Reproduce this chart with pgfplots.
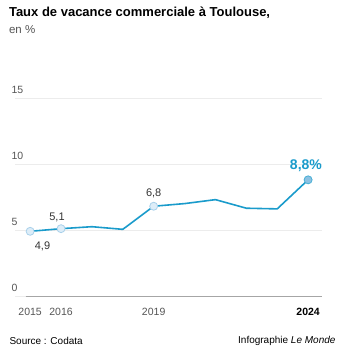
\documentclass[border=0pt]{standalone}
\usepackage{pgfplots}
\pgfplotsset{compat=1.18}
\usepackage{fontspec}
\setmainfont{Liberation Sans}
\definecolor{lineblue}{HTML}{1A9BCB}
\definecolor{mklight}{HTML}{DDEDF8}
\definecolor{mkedge}{HTML}{A8D0EA}
\definecolor{mkdark}{HTML}{8CC1E2}
\definecolor{ticklab}{HTML}{555555}
\definecolor{gridc}{HTML}{ECECEC}
\begin{document}
\begin{tikzpicture}
\useasboundingbox (0pt,0pt) rectangle (345pt,352pt);
\node[anchor=west,font=\bfseries\fontsize{13}{15}\selectfont] at (5.5pt,339pt) {Taux de vacance commerciale à Toulouse,};
\node[anchor=west,font=\fontsize{11.5}{13}\selectfont,text=ticklab] at (5.5pt,322pt) {en \%};
\node[anchor=west,font=\fontsize{10}{12}\selectfont] at (6pt,11pt) {Source : Codata};
\node[anchor=east,font=\fontsize{10}{12}\selectfont] at (339pt,11pt) {Infographie \textit{Le Monde}};
\begin{axis}[
  at={(15pt,56pt)}, anchor=south west, scale only axis,
  width=307pt, height=198pt,
  xmin=2014.51, xmax=2024.45, ymin=0, ymax=15,
  axis line style={draw=none},
  ytick={0,5,10,15},
  xtick={2015,2016,2019,2024},
  xticklabels={2015,2016,2019,\textbf{\textcolor{black}{2024}}},
  major tick length=0pt,
  ymajorgrids, grid style={gridc, line width=0.8pt},
  /pgf/number format/assume math mode=true,
  yticklabel style={anchor=south west, xshift=-7pt, yshift=1pt, font=\fontsize{10.5}{12}\selectfont, text=ticklab},
  xticklabel style={yshift=-9pt, font=\fontsize{10.5}{12}\selectfont, text=ticklab},
  clip=false,
]
\draw[gray!70, line width=0.8pt] (axis cs:2014.85,0) -- (axis cs:2024.45,0);
\addplot[lineblue, line width=1.6pt, no markers] coordinates {
 (2015,4.9) (2016,5.1) (2017,5.25) (2018,5.05) (2019,6.8) (2020,7.0) (2021,7.3) (2022,6.65) (2023,6.6) (2024,8.8)};
\addplot[only marks, mark=*, mark size=4pt, mark options={fill=mklight, draw=mkedge, line width=0.8pt}] coordinates {
 (2015,4.9) (2016,5.1) (2019,6.8)};
\addplot[only marks, mark=*, mark size=4pt, mark options={fill=mkdark, draw=lineblue!80, line width=0.8pt}] coordinates {
 (2024,8.8)};
\node[font=\fontsize{11}{13}\selectfont, text=black!80] at (axis cs:2015.4,4.9) [yshift=-15pt] {4,9};
\node[font=\fontsize{11}{13}\selectfont, text=black!80] at (axis cs:2015.87,5.1) [yshift=11pt] {5,1};
\node[font=\fontsize{11}{13}\selectfont, text=black!80] at (axis cs:2019,6.8) [yshift=13pt] {6,8};
\node[font=\bfseries\fontsize{14}{16}\selectfont, text=lineblue] at (axis cs:2023.93,8.8) [yshift=14pt] {8,8\%};
\end{axis}
\end{tikzpicture}
\end{document}
